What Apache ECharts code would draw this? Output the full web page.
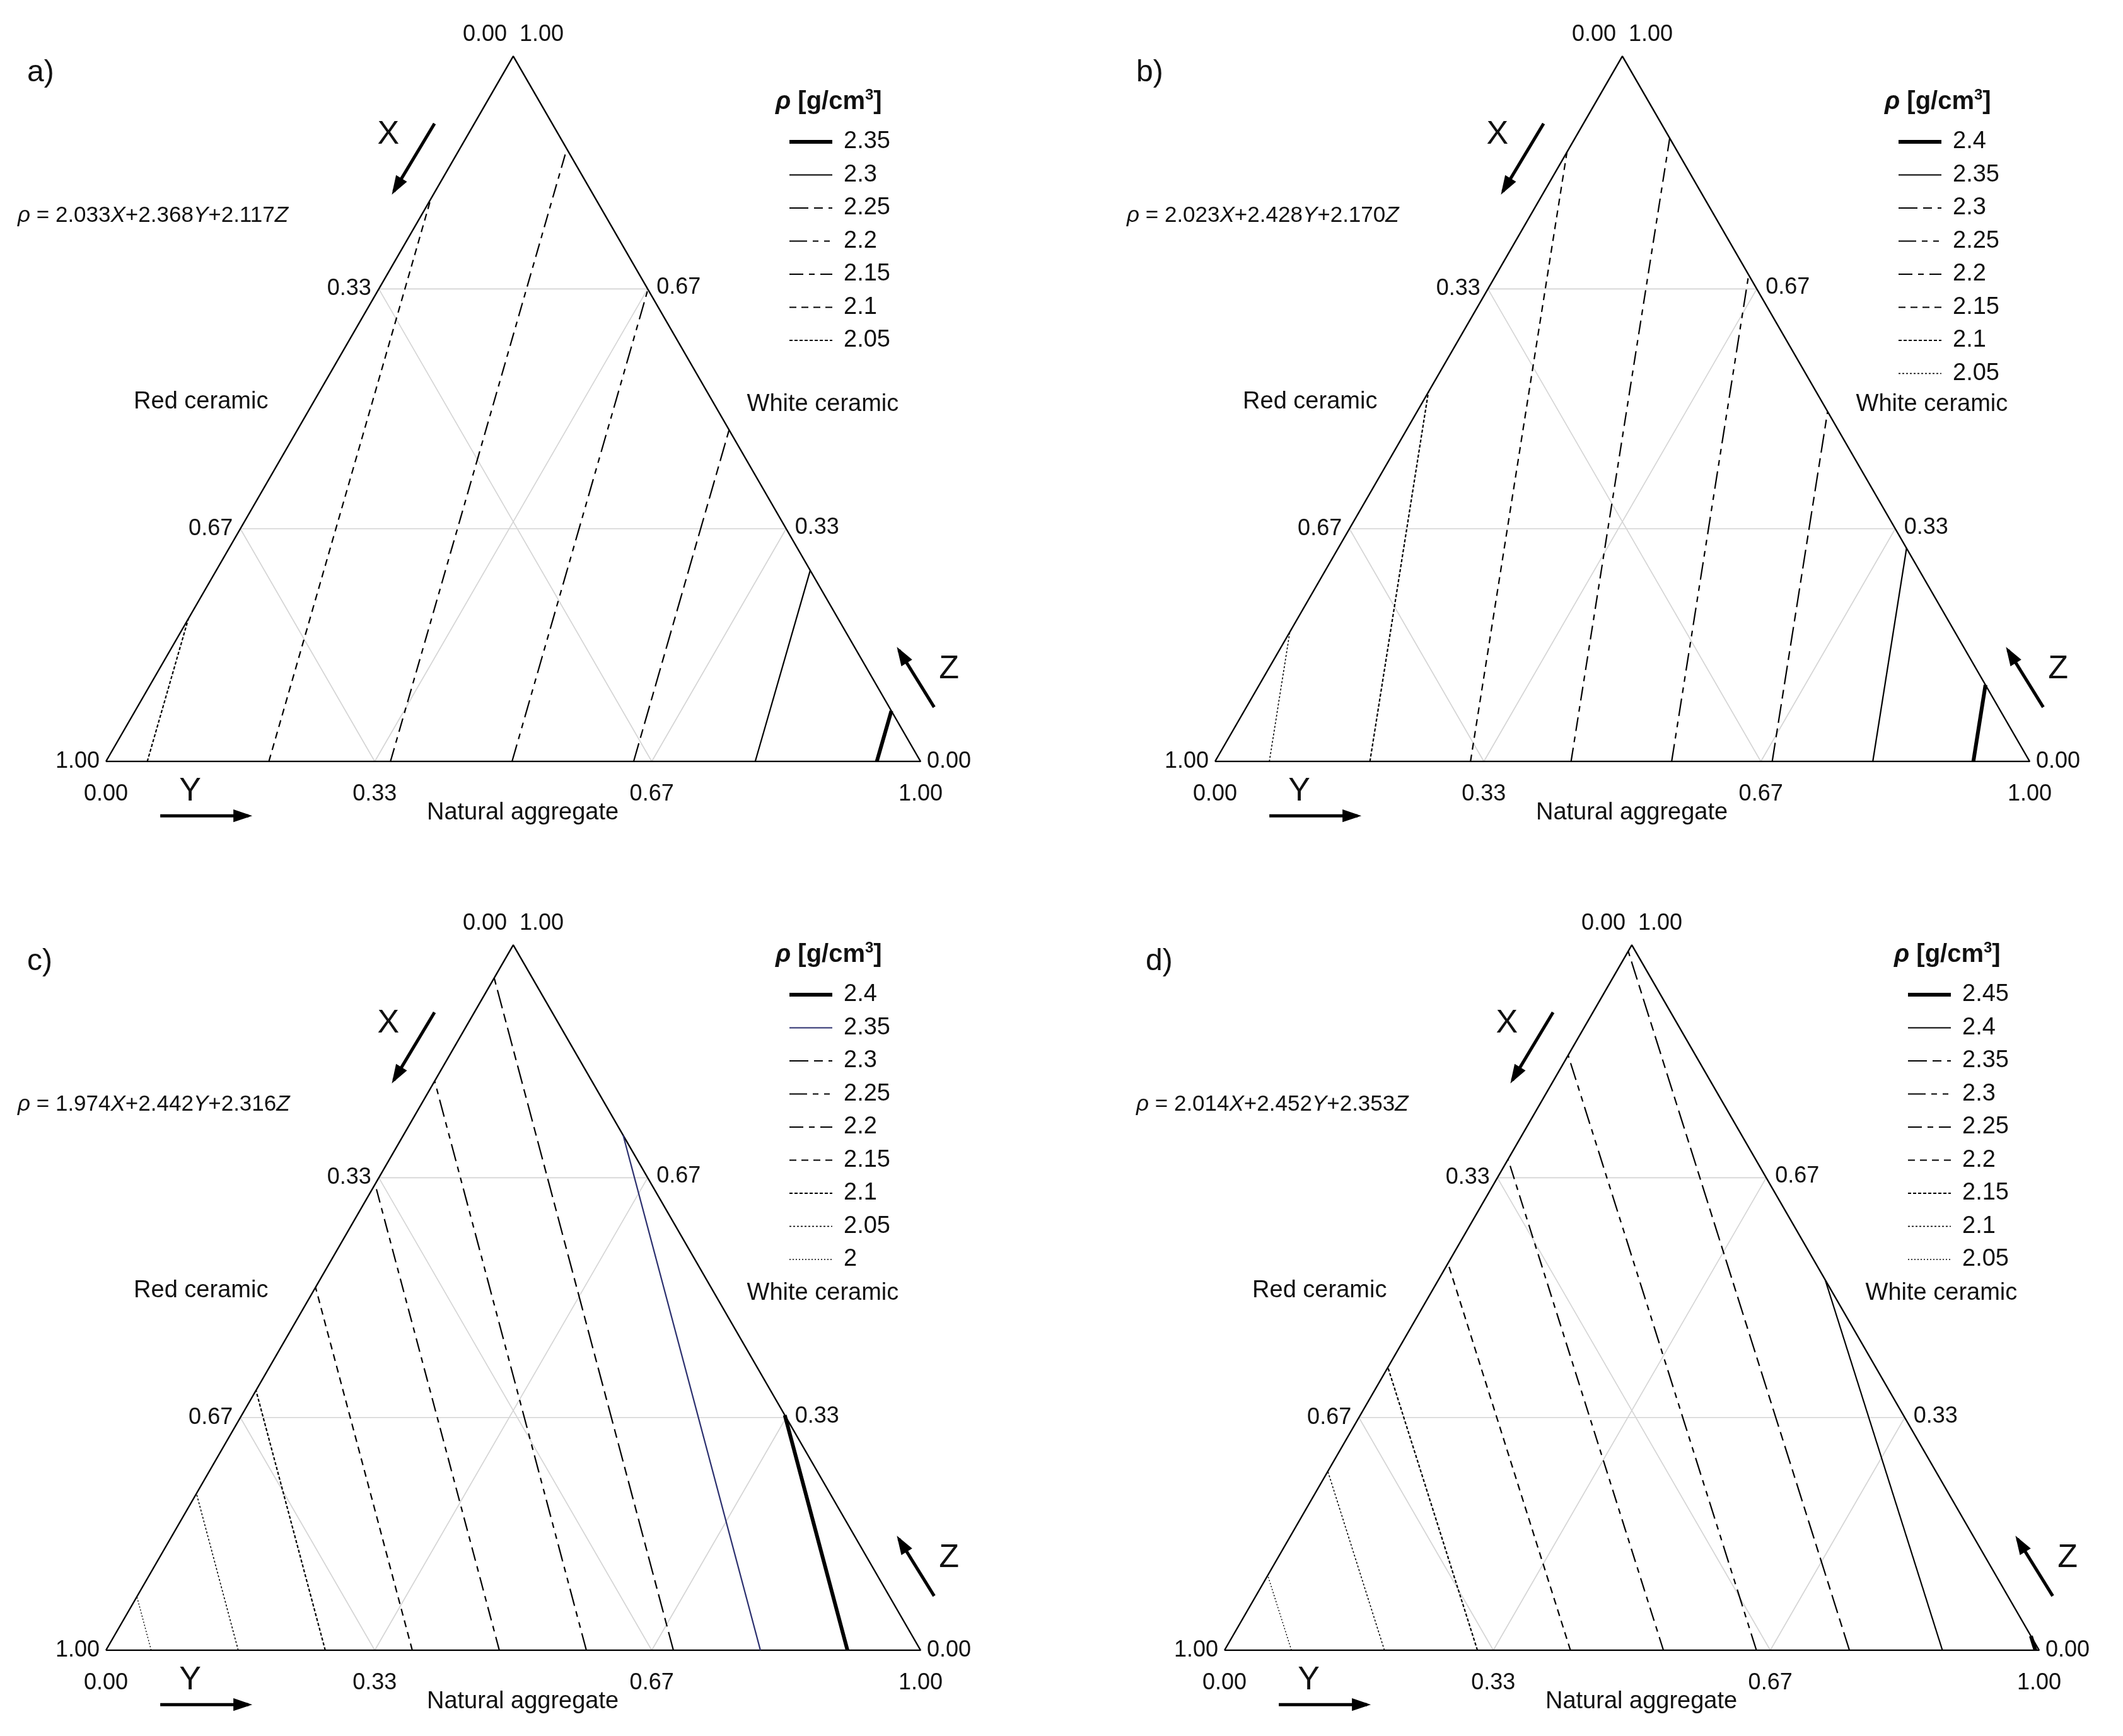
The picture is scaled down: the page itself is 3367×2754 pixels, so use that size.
<!DOCTYPE html>
<html>
<head>
<meta charset="utf-8">
<script src="https://cdn.jsdelivr.net/npm/echarts@6/dist/echarts.min.js"></script>
<style>html,body{margin:0;background:#fff}#main{width:3367px;height:2754px}</style>
</head>
<body>
<div id="main"></div>
<script>
// panels: model coefficients (X = red ceramic, Y = natural aggregate, Z = white ceramic)
var panelNames = ['a)', 'b)', 'c)', 'd)'];
var coefX = [2.033, 2.023, 1.974, 2.014];
var coefY = [2.368, 2.428, 2.442, 2.452];
var coefZ = [2.117, 2.170, 2.316, 2.353];
// contour levels, highest first (legend order)
var levelsA = [2.35, 2.3, 2.25, 2.2, 2.15, 2.1, 2.05];
var levelsB = [2.4, 2.35, 2.3, 2.25, 2.2, 2.15, 2.1, 2.05];
var levelsC = [2.4, 2.35, 2.3, 2.25, 2.2, 2.15, 2.1, 2.05, 2];
var levelsD = [2.45, 2.4, 2.35, 2.3, 2.25, 2.2, 2.15, 2.1, 2.05];
var levels = [levelsA, levelsB, levelsC, levelsD];
var gridVals = [0.33, 0.67];
var gridLabels = ['0.33', '0.67'];

var H = Math.sqrt(3) / 2;
var W = 1292;
// triangle bottom-left corner in pixels
var origins = [[168, 1208], [1927, 1208], [168, 2618], [1942, 2618]];
var legendTop = [162, 162, 1515, 1515];

// line styles by rank in the legend
var styles = [
  {w: 6, dash: null},
  {w: 2.2, dash: null},
  {w: 2.2, dash: [30, 9, 14, 9]},
  {w: 2.2, dash: [28, 9, 9, 9, 9, 9]},
  {w: 2.2, dash: [22, 9, 9, 9]},
  {w: 2.2, dash: [11, 8]},
  {w: 2.2, dash: [5, 3]},
  {w: 1.6, dash: [3, 3]},
  {w: 1.4, dash: [2, 3]}
];

function tern(x, y, z) { return [y + z / 2, z * H]; }

// contour of a + (b-a)Y + (c-a)Z = v clipped to the triangle
function contour(p, v) {
  var a = coefX[p], b = coefY[p], c = coefZ[p], pts = [];
  var y = (v - a) / (b - a);
  if (y >= 0 && y <= 1) pts.push(tern(1 - y, y, 0));
  var z = (v - a) / (c - a);
  if (z >= 0 && z <= 1) pts.push(tern(1 - z, 0, z));
  var z2 = (v - b) / (c - b);
  if (z2 > 0 && z2 < 1) pts.push(tern(0, 1 - z2, z2));
  return pts.slice(0, 2);
}

var grids = [], xAxes = [], yAxes = [], series = [], graphics = [];
var font = 'Liberation Sans, Arial, sans-serif';

function txt(x, y, s, size, align, extra) {
  var st = {text: s, fill: '#111', font: (size || 36) + 'px ' + font, align: align || 'center', verticalAlign: 'middle'};
  if (extra) for (var k in extra) st[k] = extra[k];
  graphics.push({type: 'text', x: x, y: y, style: st});
}
function arrow(x1, y1, x2, y2) {
  graphics.push({type: 'line', shape: {x1: x1, y1: y1, x2: x2, y2: y2}, style: {stroke: '#000', lineWidth: 5}});
  var ang = Math.atan2(y2 - y1, x2 - x1), L = 26, s = 0.4;
  graphics.push({type: 'polygon', shape: {points: [[x2 + 6 * Math.cos(ang), y2 + 6 * Math.sin(ang)],
    [x2 - L * Math.cos(ang - s), y2 - L * Math.sin(ang - s)],
    [x2 - L * Math.cos(ang + s), y2 - L * Math.sin(ang + s)]]}, style: {fill: '#000'}});
}

for (var p = 0; p < 4; p++) {
  var L = origins[p][0], B = origins[p][1], k = W / 600;
  grids.push({left: L, top: B - W * H, width: W, height: W * H});
  xAxes.push({gridIndex: p, type: 'value', min: 0, max: 1, show: false});
  yAxes.push({gridIndex: p, type: 'value', min: 0, max: H, show: false});
  // grid lines
  gridVals.forEach(function (g) {
    [[tern(1 - g, 0, g), tern(0, 1 - g, g)], [tern(g, 0, 1 - g), tern(g, 1 - g, 0)], [tern(0, g, 1 - g), tern(1 - g, g, 0)]]
      .forEach(function (seg) {
        series.push({type: 'line', xAxisIndex: p, yAxisIndex: p, data: seg, symbol: 'none', silent: true,
          lineStyle: {color: '#d4d4d4', width: 1.6}});
      });
  });
  // triangle
  series.push({type: 'line', xAxisIndex: p, yAxisIndex: p, symbol: 'none', silent: true,
    data: [tern(1, 0, 0), tern(0, 1, 0), tern(0, 0, 1), tern(1, 0, 0)], lineStyle: {color: '#000', width: 2.4}});
  // contours
  levels[p].forEach(function (v, i) {
    var st = styles[i];
    series.push({type: 'line', xAxisIndex: p, yAxisIndex: p, symbol: 'none', silent: true, data: contour(p, v),
      lineStyle: {color: (p === 2 && i === 1) ? '#2b2f6e' : '#000', width: st.w, type: st.dash || 'solid'}});
  });
  // tick labels
  var Tx = L + W / 2, Ty = B - W * H;
  txt(Tx - 10, Ty - 34, '0.00', 36, 'right');
  txt(Tx + 10, Ty - 34, '1.00', 36, 'left');
  txt(L - 10, B, '1.00', 36, 'right');
  txt(L, B + 52, '0.00', 36, 'center');
  txt(L + W + 10, B, '0.00', 36, 'left');
  txt(L + W, B + 52, '1.00', 36, 'center');
  gridVals.forEach(function (g, i) {
    var zl = 1 - g;
    txt(L + W * zl / 2 - 12, B - W * zl * H, gridLabels[i], 36, 'right');
    txt(L + W * (1 - g / 2) + 14, B - W * g * H - 2, gridLabels[i], 36, 'left');
    txt(L + W * g, B + 52, gridLabels[i], 36, 'center');
  });
  // names
  txt(L + 70 * k, B - 265 * k, 'Red ceramic', 38);
  txt(L + 528 * k, B - 263 * k, 'White ceramic', 38);
  txt(L + 307 * k, B + 38 * k, 'Natural aggregate', 38);
  txt(L - 125, B - 1092, panelNames[p], 48, 'left');
  graphics.push({type: 'text', x: L - 140, y: B - 866, style: {
    rich: {n: {font: '35px ' + font, fill: '#111'}, i: {font: 'italic 35px ' + font, fill: '#111'}},
    text: '{i|\u03c1}{n| = ' + coefX[p].toFixed(3) + '}{i|X}{n|+' + coefY[p].toFixed(3) + '}{i|Y}{n|+' + coefZ[p].toFixed(3) + '}{i|Z}',
    verticalAlign: 'middle'}});
  // arrows
  arrow(L + 242 * k, B - 470 * k, L + 212 * k, B - 420 * k);
  txt(L + 208 * k, B - 462 * k, 'X', 52);
  arrow(L + 40 * k, B + 40 * k, L + 105 * k, B + 40 * k);
  txt(L + 62 * k, B + 22 * k, 'Y', 52);
  arrow(L + 610 * k, B - 40 * k, L + 584 * k, B - 82 * k);
  txt(L + 621 * k, B - 68 * k, 'Z', 52);
  // legend
  var lx = L + W - 208, ly = legendTop[p];
  graphics.push({type: 'text', x: lx - 22, y: ly, style: {
    rich: {r: {font: 'italic bold 40px ' + font, fill: '#111'}, n: {font: 'bold 40px ' + font, fill: '#111'}, s: {font: 'bold 24px ' + font, fill: '#111', verticalAlign: 'top', padding: [0, 0, 22, 0]}},
    text: '{r|\u03c1}{n| [g/cm}{s|3}{n|]}', verticalAlign: 'middle'}});
  levels[p].forEach(function (v, i) {
    var yy = ly + 63 + i * 52.5, st = styles[i];
    graphics.push({type: 'line', shape: {x1: lx, y1: yy, x2: lx + 68, y2: yy},
      style: {stroke: (p === 2 && i === 1) ? '#2b2f6e' : '#000', lineWidth: st.w, lineDash: st.dash || null}});
    txt(lx + 86, yy, String(v), 38, 'left');
  });
}

var chart = echarts.init(document.getElementById('main'), null, {renderer: 'canvas'});
chart.setOption({
  animation: false,
  backgroundColor: '#fff',
  grid: grids,
  xAxis: xAxes,
  yAxis: yAxes,
  series: series,
  graphic: graphics
});
</script>
</body>
</html>
